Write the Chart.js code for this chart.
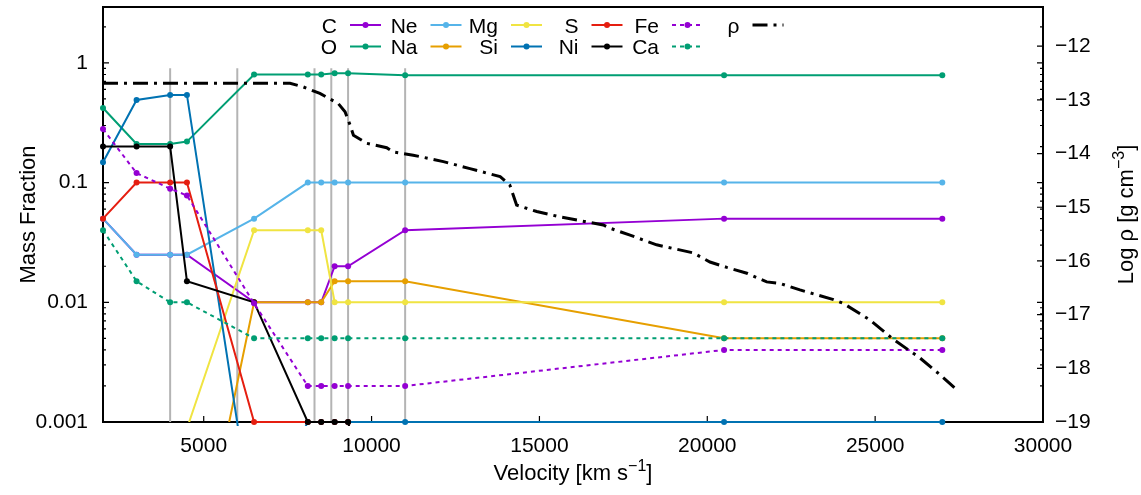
<!DOCTYPE html>
<html>
<head>
<meta charset="utf-8">
<title>Mass fraction and density vs velocity</title>
<script src="https://cdn.jsdelivr.net/npm/chart.js@4.4.1/dist/chart.umd.min.js"></script>
<style>
  html, body { margin: 0; padding: 0; background: #fff; }
  #wrap { width: 1141px; height: 495px; }
</style>
</head>
<body>
<div id="wrap"><canvas id="chart" width="1141" height="495"></canvas></div>
<script>
'use strict';

/* global Chart */

// ---- data -------------------------------------------------------------
// shell velocities [km/s]
const velocity = [2000, 3000, 4000, 4500, 6500, 8100, 8500, 8900, 9300, 11000, 20500, 27000];

// mass fractions per species (values below 1e-3 run off the bottom of the plot)
const massC  = [0.05, 0.025, 0.025, 0.025, 0.01, 0.01, 0.01, 0.02, 0.02, 0.04, 0.05, 0.05];
const massO  = [0.42, 0.21, 0.21, 0.22, 0.80, 0.80, 0.80, 0.82, 0.82, 0.79, 0.79, 0.79];
const massNe = [0.05, 0.025, 0.025, 0.025, 0.05, 0.1, 0.1, 0.1, 0.1, 0.1, 0.1, 0.1];
const massNa = [2e-5, 2e-5, 2e-5, 2e-5, 0.01, 0.01, 0.01, 0.015, 0.015, 0.015, 0.005, 0.005];
const massMg = [1e-5, 1e-5, 1e-5, 8.8e-4, 0.04, 0.04, 0.04, 0.01, 0.01, 0.01, 0.01, 0.01];
const massSi = [0.148, 0.49, 0.54, 0.54, 1.2e-4, 0.001, 0.001, 0.001, 0.001, 0.001, 0.001, 0.001];
const massS  = [0.05, 0.1, 0.1, 0.1, 0.001, 0.001, 0.001, 0.001, 0.001, 1e-5, 1e-5, 1e-5];
const massNi = [0.2, 0.2, 0.2, 0.015, 0.01, 0.001, 0.001, 0.001, 0.001, 1e-5, 1e-5, 1e-5];
const massFe = [0.28, 0.12, 0.089, 0.078, 0.0098, 0.002, 0.002, 0.002, 0.002, 0.002, 0.004, 0.004];
const massCa = [0.04, 0.015, 0.01, 0.01, 0.005, 0.005, 0.005, 0.005, 0.005, 0.005, 0.005, 0.005];

const speciesNames = ['C', 'O', 'Ne', 'Na', 'Mg', 'Si', 'S', 'Ni', 'Fe', 'Ca'];
const speciesMass  = [massC, massO, massNe, massNa, massMg, massSi, massS, massNi, massFe, massCa];

// density profile, log10 rho [g cm^-3]
const rhoVelocity = [2000, 7570, 7970, 8460, 8810, 9010, 9210, 9360, 9460, 9860, 10450, 10650,
  11240, 12140, 12930, 13830, 14120, 14320, 14920, 15610, 16900, 17100, 17700, 18490, 19580,
  20080, 20580, 21180, 21770, 22170, 22760, 23760, 24050, 24850, 25540, 26340, 26930, 27380];
const rhoLog = [-12.69, -12.69, -12.76, -12.88, -13.0, -13.07, -13.22, -13.47, -13.66, -13.81,
  -13.89, -13.97, -14.03, -14.15, -14.28, -14.43, -14.59, -14.96, -15.08, -15.18, -15.33,
  -15.39, -15.52, -15.70, -15.85, -16.02, -16.12, -16.23, -16.39, -16.42, -16.54, -16.72,
  -16.79, -17.10, -17.46, -17.81, -18.12, -18.37];

// shell boundaries (grey verticals)
const boundaryVelocity = [4000, 6000, 8300, 8800, 9300, 11000];
const boundaryRange    = [0.001, 0.9];

// axes
const xTicks  = [5000, 10000, 15000, 20000, 25000, 30000];
const yTicks  = [0.001, 0.01, 0.1, 1];
const y2Ticks = [-19, -18, -17, -16, -15, -14, -13, -12];

// ---- styles -----------------------------------------------------------
const FONT = "'Liberation Sans', Arial, Helvetica, sans-serif";
const COLORS = ['#9400d3', '#009e73', '#56b4e9', '#e69f00', '#f0e442',
                '#0072b2', '#e51e10', '#000000', '#9400d3', '#009e73'];
const DOTTED = { Fe: true, Ca: true };
const LOW_CLIP = { Na: true, Mg: true };   // these never sit on the bottom border

Chart.defaults.font.family = FONT;
Chart.defaults.color = '#000';

const datasets = [];

boundaryVelocity.forEach(v => {
  datasets.push({
    label: '', legend: false,
    data: boundaryRange.map(y => ({ x: v, y })),
    yAxisID: 'y', borderColor: '#b4b4b4', borderWidth: 2,
    pointRadius: 0, order: 50,
  });
});

speciesNames.forEach((name, i) => {
  datasets.push({
    label: name, legend: true,
    data: velocity.map((v, k) => ({ x: v, y: speciesMass[i][k] })),
    yAxisID: 'y',
    borderColor: COLORS[i], backgroundColor: COLORS[i],
    borderWidth: 2, borderDash: DOTTED[name] ? [4, 4] : [],
    pointRadius: 3, pointBorderWidth: 0, pointBackgroundColor: COLORS[i],
    tension: 0,
    clip: { left: 5, right: 5, top: 0, bottom: LOW_CLIP[name] ? 0 : 4 },
    order: 20 - i,
  });
});

datasets.push({
  label: 'ρ', legend: true,
  data: rhoVelocity.map((v, k) => ({ x: v, y: rhoLog[k] })),
  yAxisID: 'y2',
  borderColor: '#000', borderWidth: 3, borderDash: [15, 6, 3, 6], borderCapStyle: 'butt',
  pointRadius: 0, tension: 0, order: 1,
});

// ---- plugins ----------------------------------------------------------
function drawRich(ctx, parts, x, y, rot) {
  ctx.save();
  ctx.translate(x, y);
  ctx.rotate(rot);
  ctx.textBaseline = 'alphabetic';
  ctx.textAlign = 'left';
  let total = 0;
  parts.forEach(p => {
    ctx.font = (p.sup ? 16 : 22) + 'px ' + FONT;
    p.w = ctx.measureText(p.t).width;
    total += p.w;
  });
  let cx = -total / 2;
  parts.forEach(p => {
    ctx.font = (p.sup ? 16 : 22) + 'px ' + FONT;
    ctx.fillText(p.t, cx, p.sup ? -9 : 0);
    cx += p.w;
  });
  ctx.restore();
}

// fixed box sizes so the plot area sits where the original does
function fixBox(size) {
  return s => {
    if (s.isHorizontal()) s.height = size; else s.width = size;
    s.paddingTop = 0; s.paddingBottom = 0; s.paddingLeft = 0; s.paddingRight = 0;
  };
}

const framePlugin = {
  id: 'frame',
  beforeDatasetsDraw(chart) {
    const { ctx, chartArea: a, scales } = chart;
    ctx.save();
    ctx.strokeStyle = '#000';
    ctx.lineWidth = 1.2;
    ctx.beginPath();
    xTicks.forEach(v => {
      const px = scales.x.getPixelForValue(v);
      ctx.moveTo(px, a.bottom); ctx.lineTo(px, a.bottom - 6);
    });
    for (let d = -3; d <= 0; d++) {
      for (let m = 1; m <= 9; m++) {
        const v = m * Math.pow(10, d);
        if (v > scales.y.max) break;
        const py = scales.y.getPixelForValue(v);
        const len = m === 1 ? 6 : 3;
        ctx.moveTo(a.left, py); ctx.lineTo(a.left + len, py);
        ctx.moveTo(a.right, py); ctx.lineTo(a.right - len, py);
      }
    }
    y2Ticks.forEach(v => {
      const py = scales.y2.getPixelForValue(v);
      ctx.moveTo(a.right, py); ctx.lineTo(a.right - 6, py);
    });
    ctx.stroke();
    ctx.lineWidth = 2;
    ctx.strokeRect(a.left, a.top, a.right - a.left, a.bottom - a.top);
    ctx.restore();
  },
  afterDatasetsDraw(chart) {
    const { ctx } = chart;
    ctx.save();
    ctx.font = '21px ' + FONT;
    ctx.fillStyle = '#000';
    ctx.textAlign = 'right';
    ctx.textBaseline = 'alphabetic';
    const items = chart.data.datasets.filter(d => d.legend);
    items.forEach((ds, i) => {
      const col = Math.floor(i / 2), row = i % 2;
      const labelRight = 337 + col * 80.5;
      const sx = 350 + col * 80.5, len = 31;
      const sy = row === 0 ? 25 : 46.5;
      ctx.fillText(ds.label, labelRight, sy + 7.5);
      ctx.strokeStyle = ds.borderColor;
      ctx.lineWidth = ds.borderWidth;
      ctx.lineCap = 'butt';
      ctx.setLineDash(ds.borderDash || []);
      ctx.beginPath();
      ctx.moveTo(sx, sy); ctx.lineTo(sx + len, sy);
      ctx.stroke();
      ctx.setLineDash([]);
      if (ds.pointRadius) {
        ctx.fillStyle = ds.pointBackgroundColor;
        ctx.beginPath();
        ctx.arc(sx + len / 2, sy, ds.pointRadius, 0, Math.PI * 2);
        ctx.fill();
        ctx.fillStyle = '#000';
      }
    });
    ctx.restore();
  },
  afterDraw(chart) {
    const { ctx, chartArea: a } = chart;
    const midY = (a.top + a.bottom) / 2;
    ctx.save();
    ctx.fillStyle = '#000';
    drawRich(ctx, [{ t: 'Mass Fraction' }], 35, midY, -Math.PI / 2);
    drawRich(ctx, [{ t: 'Velocity [km s' }, { t: '\u22121', sup: true }, { t: ']' }],
      (a.left + a.right) / 2, 480, 0);
    drawRich(ctx, [{ t: 'Log ρ [g cm' }, { t: '\u22123', sup: true }, { t: ']' }],
      1133, midY, -Math.PI / 2);
    ctx.restore();
  },
};

// ---- chart ------------------------------------------------------------
new Chart(document.getElementById('chart'), {
  type: 'line',
  data: { datasets },
  options: {
    responsive: false, animation: false, events: [],
    layout: { padding: { top: 7, left: 0, right: 0, bottom: 0 } },
    plugins: { legend: { display: false }, tooltip: { enabled: false } },
    scales: {
      x: {
        type: 'linear', min: 2000, max: 30000,
        grid: { display: false, drawTicks: false }, border: { display: false },
        afterBuildTicks: s => { s.ticks = xTicks.map(v => ({ value: v })); },
        afterFit: fixBox(73),
        ticks: { font: { size: 21 }, padding: 12, maxRotation: 0, callback: v => String(v) },
      },
      y: {
        type: 'logarithmic', position: 'left', min: 0.001, max: 2.93,
        grid: { display: false, drawTicks: false }, border: { display: false },
        afterBuildTicks: s => { s.ticks = yTicks.map(v => ({ value: v })); },
        afterFit: fixBox(103),
        ticks: { font: { size: 21 }, padding: 15, callback: v => String(v) },
      },
      y2: {
        type: 'linear', position: 'right', min: -19, max: -11.27,
        grid: { display: false, drawTicks: false }, border: { display: false },
        afterBuildTicks: s => { s.ticks = y2Ticks.map(v => ({ value: v })); },
        afterFit: fixBox(98),
        ticks: { font: { size: 21 }, padding: 12, callback: v => String(v).replace('-', '\u2212') },
      },
    },
  },
  plugins: [framePlugin],
});
</script>
</body>
</html>
